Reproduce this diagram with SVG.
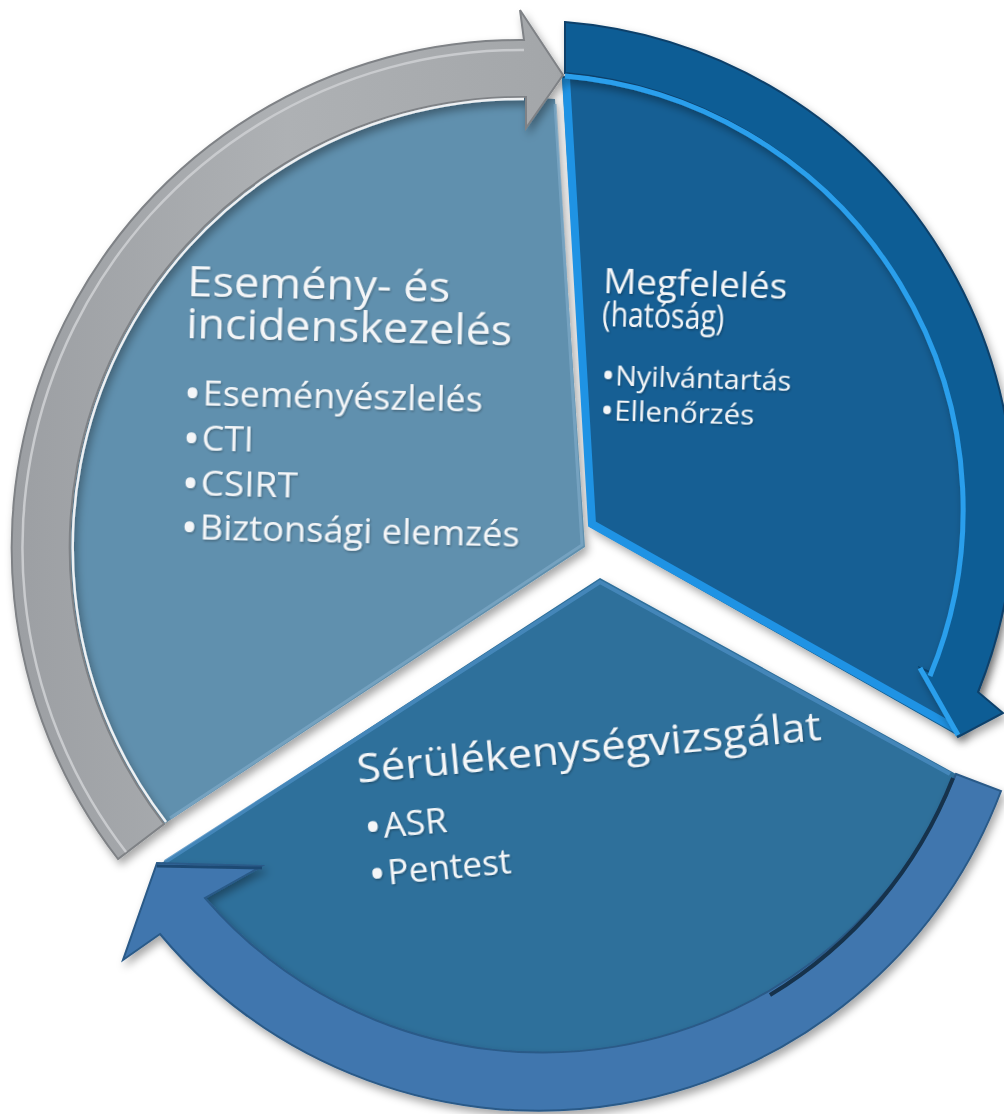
<svg xmlns="http://www.w3.org/2000/svg" width="1004" height="1114" viewBox="0 0 1004 1114">
<defs>
<filter id="sh" x="-10%" y="-10%" width="120%" height="120%">
<feDropShadow dx="3" dy="5" stdDeviation="4" flood-color="#000" flood-opacity="0.35"/>
</filter>
<filter id="ts" x="-5%" y="-20%" width="110%" height="140%">
<feDropShadow dx="1" dy="1.5" stdDeviation="1" flood-color="#000" flood-opacity="0.3"/>
</filter>
<linearGradient id="gGray" x1="0" y1="0" x2="1" y2="0">
<stop offset="0" stop-color="#9c9fa3"/>
<stop offset="0.5" stop-color="#aeb1b4"/>
<stop offset="1" stop-color="#a3a6a9"/>
</linearGradient>
</defs>
<style>
.t{font-family:"Open Sans","DejaVu Sans","Liberation Sans",sans-serif;fill:#f4f6f8}
.bl{font-size:46px}
</style>
<rect width="1004" height="1114" fill="#ffffff"/>

<g id="node-incidens">
<path d="M585,547 L164,824 A451,451 0 0 1 555,99 Z" fill="#6090ae" filter="url(#sh)"/>
<path d="M555,104 L582,545 L170,818" fill="none" stroke="#7ba6c4" stroke-width="3" opacity="0.8"/>
<g transform="rotate(1.3 187 295)" filter="url(#ts)">
<text class="t" style="font-size:42px" x="187" y="296" textLength="263" lengthAdjust="spacingAndGlyphs">Esemény- és</text>
<text class="t" style="font-size:42px" x="187" y="338" textLength="326" lengthAdjust="spacingAndGlyphs">incidenskezelés</text>
<text class="t bl" x="186" y="409">•</text>
<text class="t" style="font-size:34px" x="205" y="405" textLength="280" lengthAdjust="spacingAndGlyphs">Eseményészlelés</text>
<text class="t bl" x="186" y="454">•</text>
<text class="t" style="font-size:34px" x="205" y="450" textLength="52" lengthAdjust="spacingAndGlyphs">CTI</text>
<text class="t bl" x="186" y="499">•</text>
<text class="t" style="font-size:34px" x="205" y="495" textLength="97" lengthAdjust="spacingAndGlyphs">CSIRT</text>
<text class="t bl" x="186" y="543">•</text>
<text class="t" style="font-size:34px" x="205" y="539" textLength="320" lengthAdjust="spacingAndGlyphs">Biztonsági elemzés</text>
</g>
</g>

<g id="node-megfeleles">
<path d="M590,527 L562,76 A460,460 0 0 1 960,737 Z" fill="#125f94" filter="url(#sh)"/>
<path d="M566,78 L592,524 L958,730" fill="none" stroke="#1f93e4" stroke-width="8" stroke-linejoin="miter"/>
<g transform="rotate(1.8 603 292)" filter="url(#ts)">
<text class="t" style="font-size:34px" x="603" y="293" textLength="184" lengthAdjust="spacingAndGlyphs">Megfelelés</text>
<text class="t" style="font-size:34px" x="603" y="326" textLength="122" lengthAdjust="spacingAndGlyphs">(hatóság)</text>
<text class="t" style="font-size:36px" x="604" y="388">•</text>
<text class="t" style="font-size:27px" x="618" y="385" textLength="176" lengthAdjust="spacingAndGlyphs">Nyilvántartás</text>
<text class="t" style="font-size:36px" x="604" y="423">•</text>
<text class="t" style="font-size:27px" x="618" y="420" textLength="140" lengthAdjust="spacingAndGlyphs">Ellenőrzés</text>
</g>
</g>

<g id="node-serulekenyseg">
<path d="M600,578 L956,774 A446,446 0 0 1 205,898 L157,866 Z" fill="#2f6f9b" filter="url(#sh)"/>
<path d="M165,862 L600,582 L950,774" fill="none" stroke="#4a8cc0" stroke-width="4" opacity="0.8"/>
<g transform="rotate(-5.3 358 782)" filter="url(#ts)">
<text class="t" style="font-size:41px" x="358" y="783" textLength="466" lengthAdjust="spacingAndGlyphs">Sérülékenységvizsgálat</text>
<text class="t bl" x="360" y="844">•</text>
<text class="t" style="font-size:34px" x="379" y="840" textLength="64" lengthAdjust="spacingAndGlyphs">ASR</text>
<text class="t bl" x="360" y="891">•</text>
<text class="t" style="font-size:34px" x="379" y="887" textLength="124" lengthAdjust="spacingAndGlyphs">Pentest</text>
</g>
</g>

<g id="connectors">
<g id="arrow-gray" filter="url(#sh)">
<path d="M118,859 A508,508 0 0 1 524,40 L520,10 L563,75 L526,128 L526,97 A451,451 0 0 0 164,824 Z" fill="url(#gGray)" stroke="#7f8286" stroke-width="2" stroke-linejoin="miter"/>
<path d="M126,852 A498,498 0 0 1 524,50" fill="none" stroke="#c9cbce" stroke-width="2.5"/>
<path d="M524,99 A449,449 0 0 0 166,822" fill="none" stroke="#eef0f2" stroke-width="2.5"/>
</g>
<g id="arrow-dark" filter="url(#sh)">
<path d="M565,22 A488,488 0 0 1 978,692 L1003,713 L958,737 L920,668 L932,673 A438,438 0 0 0 565,73 Z" fill="#0f5d95" stroke="#0a416b" stroke-width="2" stroke-linejoin="miter"/>
<path d="M565,76 A435,435 0 0 1 930,676" fill="none" stroke="#2a9fec" stroke-width="5"/>
<path d="M920,668 L958,735" fill="none" stroke="#2a9fec" stroke-width="5"/>
</g>
<g id="arrow-bottom" filter="url(#sh)">
<path d="M956,774 L1001,791 A494,494 0 0 1 160,934 L123,960 L157,863 L262,866 L205,898 A446,446 0 0 0 956,774 Z" fill="#3f76ae" stroke="#2a5a88" stroke-width="2" stroke-linejoin="miter"/>
<path d="M953,778 A442,442 0 0 1 770,995" fill="none" stroke="#16314c" stroke-width="4"/>
<path d="M157,866 L262,868" fill="none" stroke="#1f4a73" stroke-width="3"/>
</g>
</g>
</svg>
